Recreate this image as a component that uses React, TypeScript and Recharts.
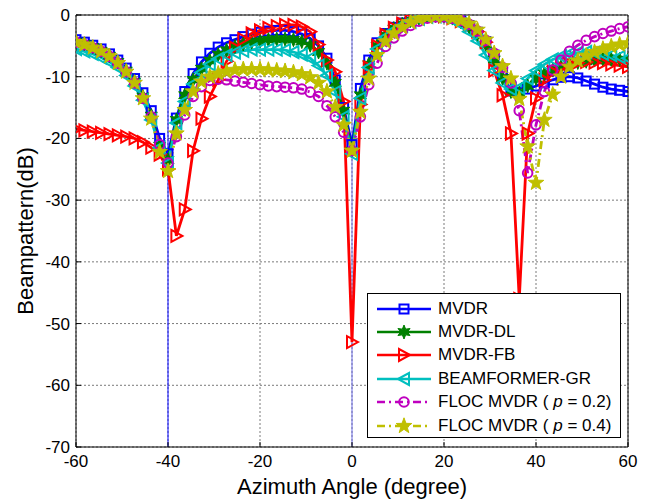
import React from 'react';
import { LineChart, Line, XAxis, YAxis, CartesianGrid, ReferenceLine, Legend } from 'recharts';

// Azimuth angles (degree)
const angles = [
  -60, -58.18, -56.36, -54.55, -52.73, -50.91, -49.09, -47.27, -45.45, -43.64, -41.82, -40,
  -38.18, -36.36, -34.55, -32.73, -30.91, -29.09, -27.27, -25.45, -23.64, -21.82, -20, -18.18,
  -16.36, -14.55, -12.73, -10.91, -9.09, -7.27, -5.45, -3.64, -1.82, 0,
  1.82, 3.64, 5.45, 7.27, 9.09, 10.91, 12.73, 14.55, 16.36, 18.18, 20, 21.82, 23.64, 25.45, 27.27, 29.09,
  30.91, 32.73, 34.55, 36.36, 38.18, 40, 41.82, 43.64, 45.45, 47.27, 49.09, 50.91, 52.73, 54.55, 56.36, 58.18, 60,
];

const mvdr = [
  -4.0, -4.4, -4.9, -5.5, -6.3, -7.3, -8.6, -10.3, -12.6, -15.5, -20.0, -22.5,
  -16.7, -12.4, -9.5, -7.6, -6.2, -5.2, -4.5, -4.0, -3.5, -3.1, -2.8, -2.6, -2.5, -2.5, -2.7, -3.1, -3.8, -5.0, -7.0, -10.5, -15.0, -21.0,
  -11.9, -7.3, -4.5, -3.0, -2.0, -1.3, -0.8, -0.4, -0.2, -0.1, -0.2, -0.5, -1.0, -1.7, -2.8, -4.3,
  -6.5, -9.5, -12.3, -12.6, -12.0, -11.5, -11.0, -10.5, -10.1, -10.0, -10.2, -10.7, -11.2, -11.7, -12.0, -12.2, -12.4,
];

const mvdrDl = [
  -4.3, -4.7, -5.2, -5.8, -6.6, -7.6, -9.0, -10.8, -13.2, -16.3, -21.2, -23.5,
  -17.0, -13.0, -10.5, -8.7, -7.4, -6.4, -5.7, -5.1, -4.7, -4.4, -4.2, -4.0, -3.9, -3.9, -4.0, -4.3, -4.9, -6.0, -7.8, -11.0, -15.5, -22.0,
  -13.0, -8.0, -5.0, -3.3, -2.2, -1.5, -0.9, -0.5, -0.2, -0.1, -0.2, -0.5, -1.1, -1.9, -3.1, -4.8,
  -7.2, -10.2, -12.4, -12.7, -11.5, -10.3, -9.5, -8.9, -8.4, -8.0, -7.7, -7.5, -7.3, -7.2, -7.2, -7.2, -7.3,
];

const mvdrFb = [
  -18.5, -18.7, -18.9, -19.1, -19.3, -19.5, -19.7, -20.0, -20.6, -21.5, -22.6, -25.0,
  -35.8, -31.5, -22.0, -16.8, -13.2, -10.5, -7.5, -5.3, -3.9, -3.0, -2.5, -2.1, -1.8, -1.6, -1.6, -1.9, -2.7, -4.8, -7.3, -9.2, -14.0, -53.0,
  -14.5, -8.5, -5.0, -3.2, -2.1, -1.4, -0.8, -0.4, -0.2, -0.1, -0.2, -0.5, -1.0, -1.7, -2.7, -4.4,
  -9.0, -13.0, -19.2, -46.0, -19.2, -13.5, -10.5, -9.2, -8.4, -7.9, -7.7, -7.6, -7.7, -7.8, -8.0, -8.2, -8.4,
];

const beamformerGr = [
  -5.5, -5.9, -6.3, -6.9, -7.6, -8.5, -9.8, -11.5, -13.8, -17.0, -21.5, -24.0,
  -17.5, -14.0, -11.2, -9.3, -8.0, -7.1, -6.5, -6.1, -5.8, -5.6, -5.6, -5.6, -5.6, -5.7, -6.0, -6.4, -7.0, -8.2, -9.8, -12.5, -16.5, -22.5,
  -13.5, -8.5, -5.5, -3.6, -2.5, -1.7, -1.1, -0.6, -0.3, -0.2, -0.3, -0.8, -1.5, -2.7, -4.2, -6.5,
  -9.0, -11.0, -12.0, -11.8, -10.3, -9.0, -8.0, -7.2, -6.7, -6.3, -6.1, -6.0, -6.1, -6.3, -6.5, -6.8, -7.0,
];

const floc02 = [
  -4.4, -4.8, -5.3, -5.9, -6.7, -7.8, -9.2, -11.0, -13.5, -16.5, -21.0, -24.0,
  -19.7, -16.2, -13.2, -11.6, -10.6, -10.4, -10.5, -10.7, -10.9, -11.1, -11.3, -11.5, -11.6, -11.7, -11.8, -12.0, -12.5, -13.2, -14.7, -16.5, -19.0, -22.0,
  -16.5, -11.3, -7.8, -5.1, -3.7, -2.6, -1.7, -1.0, -0.5, -0.3, -0.3, -0.5, -0.9, -1.5, -2.6, -4.1,
  -6.2, -8.5, -11.0, -15.5, -25.6, -17.8, -12.4, -8.9, -7.3, -5.9, -4.9, -4.1, -3.5, -3.0, -2.6, -2.2, -1.9,
];

const floc04 = [
  -4.4, -4.8, -5.3, -5.9, -6.7, -7.8, -9.2, -11.0, -13.5, -16.8, -22.2, -25.3,
  -19.2, -15.4, -12.4, -10.8, -10.0, -9.5, -9.2, -8.9, -8.8, -8.8, -8.8, -8.9, -9.0, -9.1, -9.3, -9.6, -10.1, -11.0, -12.4, -14.9, -17.8, -22.0,
  -15.7, -10.3, -6.5, -4.3, -3.0, -2.0, -1.2, -0.6, -0.3, -0.2, -0.2, -0.5, -0.9, -1.4, -2.4, -4.0,
  -6.2, -8.3, -10.3, -13.6, -21.3, -27.2, -17.0, -12.9, -10.0, -8.4, -7.4, -6.6, -6.0, -5.5, -5.1, -4.8, -4.6,
];

const xTicks = [-60, -40, -20, 0, 20, 40, 60];
const yTicks = [-70, -60, -50, -40, -30, -20, -10, 0];
const interfererAngles = [-40, 0];

const data = angles.map((a, i) => ({
  x: a,
  mvdr: mvdr[i],
  dl: mvdrDl[i],
  fb: mvdrFb[i],
  gr: beamformerGr[i],
  f2: floc02[i],
  f4: floc04[i],
}));

const FONT = '"Liberation Sans", Arial, Helvetica, sans-serif';

type Shape = 'square' | 'hexagram' | 'tright' | 'tleft' | 'circle' | 'pentagram';

const starPath = (cx: number, cy: number, n: number, ro: number, ri: number) => {
  let d = '';
  for (let i = 0; i < 2 * n; i++) {
    const r = i % 2 === 0 ? ro : ri;
    const a = -Math.PI / 2 + (i * Math.PI) / n;
    d += (i === 0 ? 'M' : 'L') + (cx + r * Math.cos(a)).toFixed(2) + ',' + (cy + r * Math.sin(a)).toFixed(2);
  }
  return d + 'Z';
};

const Marker = ({ shape, cx, cy, color }: { shape: Shape; cx: number; cy: number; color: string }) => {
  switch (shape) {
    case 'square':
      return <rect x={cx - 4.5} y={cy - 4.5} width={9} height={9} fill="none" stroke={color} strokeWidth={2} />;
    case 'circle':
      return <circle cx={cx} cy={cy} r={4.8} fill="none" stroke={color} strokeWidth={2} />;
    case 'tright':
      return <path d={`M${cx + 6},${cy}L${cx - 5},${cy - 6}L${cx - 5},${cy + 6}Z`} fill="none" stroke={color} strokeWidth={2} />;
    case 'tleft':
      return <path d={`M${cx - 6},${cy}L${cx + 5},${cy - 6}L${cx + 5},${cy + 6}Z`} fill="none" stroke={color} strokeWidth={2} />;
    case 'hexagram':
      return <path d={starPath(cx, cy, 6, 7, 3.3)} fill={color} stroke={color} strokeWidth={1} />;
    case 'pentagram':
      return <path d={starPath(cx, cy, 5, 8.2, 3.3)} fill={color} stroke={color} strokeWidth={1} />;
  }
  return null;
};

const makeDot = (shape: Shape, color: string) => (props: any) => {
  const { cx, cy, index } = props;
  if (cx == null || cy == null) return <g key={`e${index}`} />;
  return (
    <g key={`m${shape}${index}`}>
      <Marker shape={shape} cx={cx} cy={cy} color={color} />
    </g>
  );
};

const seriesDefs: { key: string; name: React.ReactNode; color: string; shape: Shape; dash?: string }[] = [
  { key: 'mvdr', name: 'MVDR', color: '#0000ff', shape: 'square' },
  { key: 'dl', name: 'MVDR-DL', color: '#008000', shape: 'hexagram' },
  { key: 'fb', name: 'MVDR-FB', color: '#ff0000', shape: 'tright' },
  { key: 'gr', name: 'BEAMFORMER-GR', color: '#00bfbf', shape: 'tleft' },
  {
    key: 'f2',
    name: (
      <>
        FLOC MVDR ( <i>p</i> = 0.2)
      </>
    ),
    color: '#bf00bf',
    shape: 'circle',
    dash: '8 4 2 4',
  },
  {
    key: 'f4',
    name: (
      <>
        FLOC MVDR ( <i>p</i> = 0.4)
      </>
    ),
    color: '#bfbf00',
    shape: 'pentagram',
    dash: '8 4 2 4',
  },
];

const LegendBox = () => (
  <div
    style={{
      width: 254,
      height: 145,
      boxSizing: 'border-box',
      border: '1px solid #000',
      background: '#fff',
      paddingTop: 3,
      fontFamily: FONT,
      fontSize: 17,
      color: '#000',
    }}
  >
    {seriesDefs.map((s) => (
      <div key={s.key} style={{ display: 'flex', alignItems: 'center', height: 23.4, whiteSpace: 'nowrap' }}>
        <svg width={70} height={22} style={{ flex: 'none' }}>
          <line x1={9} x2={63} y1={11} y2={11} stroke={s.color} strokeWidth={2.5} strokeDasharray={s.dash} />
          <Marker shape={s.shape} cx={36} cy={11} color={s.color} />
        </svg>
        <span>{s.name}</span>
      </div>
    ))}
  </div>
);

export default function App() {
  return (
    <div style={{ position: 'absolute', left: 0, top: 0, width: 652, height: 500, background: '#fff' }}>
      <LineChart
        width={652}
        height={500}
        data={data}
        margin={{ top: 0, right: 0, bottom: 0, left: 0 }}
        style={{ fontFamily: FONT }}
      >
        <CartesianGrid stroke="#7a7a7a" strokeDasharray="2 2" strokeWidth={1} />
        <XAxis
          dataKey="x"
          type="number"
          domain={[-60, 60]}
          ticks={xTicks}
          interval={0}
          height={53}
          tickSize={-5}
          tickMargin={13}
          stroke="#000"
          tick={{ fill: '#000', fontSize: 17, fontFamily: FONT }}
          allowDataOverflow
          label={{ value: 'Azimuth Angle (degree)', position: 'insideBottom', offset: 6, fill: '#000', fontSize: 22, fontFamily: FONT }}
        />
        <XAxis
          xAxisId="top"
          orientation="top"
          dataKey="x"
          type="number"
          domain={[-60, 60]}
          ticks={xTicks}
          interval={0}
          height={15}
          tickSize={-5}
          tick={false}
          stroke="#000"
          allowDataOverflow
        />
        <YAxis
          type="number"
          domain={[-70, 0]}
          ticks={yTicks}
          interval={0}
          width={76}
          tickSize={-5}
          tickMargin={11}
          stroke="#000"
          tick={{ fill: '#000', fontSize: 17, fontFamily: FONT }}
          allowDataOverflow
          label={(props: any) => {
            const vb = props.viewBox || { x: 0, y: 15, width: 76, height: 432 };
            const cx = vb.x + 25;
            const cy = vb.y + vb.height / 2;
            return (
              <text
                x={cx}
                y={cy}
                transform={`rotate(-90 ${cx} ${cy})`}
                textAnchor="middle"
                dominantBaseline="central"
                fill="#000"
                fontSize={22}
                fontFamily={FONT}
              >
                Beampattern(dB)
              </text>
            );
          }}
        />
        <YAxis
          yAxisId="right"
          orientation="right"
          type="number"
          domain={[-70, 0]}
          ticks={yTicks}
          interval={0}
          width={24}
          tickSize={-5}
          tick={false}
          stroke="#000"
          allowDataOverflow
        />
        {interfererAngles.map((a, i) => (
          <ReferenceLine key={a} x={a} stroke={i === 0 ? '#0000ff' : '#6b6be6'} strokeWidth={1} />
        ))}
        {seriesDefs.map((s) => (
          <Line
            key={s.key}
            dataKey={s.key}
            type="linear"
            stroke={s.color}
            strokeWidth={2.8}
            strokeDasharray={s.dash}
            dot={makeDot(s.shape, s.color)}
            activeDot={false}
            isAnimationActive={false}
          />
        ))}
        <Legend
          layout="vertical"
          align="center"
          verticalAlign="middle"
          content={() => <LegendBox />}
          wrapperStyle={{ position: 'absolute', left: 367, top: 293, width: 254, height: 145, right: 'auto', bottom: 'auto' }}
        />
      </LineChart>
    </div>
  );
}
